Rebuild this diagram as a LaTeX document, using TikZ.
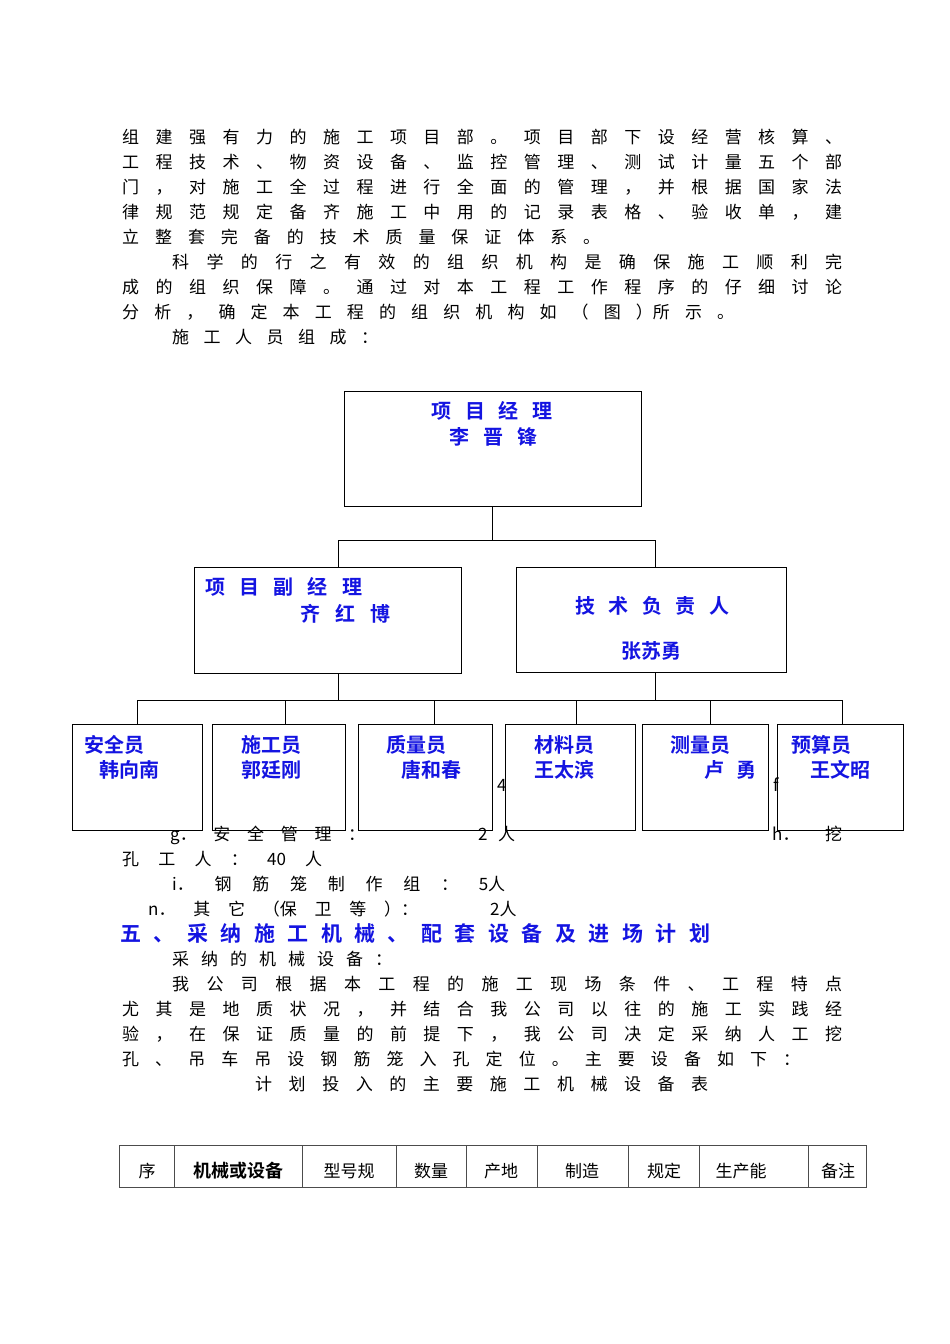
\documentclass[tikz,border=0pt]{standalone}
\usepackage{fontspec}
\setmainfont{Noto Sans CJK SC}
\newfontfamily\boldcjk{Noto Sans CJK SC Bold}
\definecolor{orgblue}{RGB}{20,20,225}
\newcommand\jl[4]{\node[anchor=base west,inner sep=0] (#1) at (#2) {\makebox[#3pt][s]{#4}};}
\begin{document}
\begin{tikzpicture}[x=1pt,y=-1pt,font=\fontsize{17}{20}\selectfont,
  box/.style={draw,line width=0.8pt,anchor=north west,inner sep=0},
  org/.style={text=orgblue,font=\fontsize{20}{24}\selectfont\boldcjk,inner sep=0,anchor=base},
  ln/.style={line width=0.8pt}]
\useasboundingbox (0,0) rectangle (950,1344);
\fill[white] (0,0) rectangle (950,1344);
% text block 1
\jl{t1}{122,143}{720}{组 建 强 有 力 的 施 工 项 目 部 。 项 目 部 下 设 经 营 核 算 、}
\jl{t2}{122,168}{720}{工 程 技 术 、 物 资 设 备 、 监 控 管 理 、 测 试 计 量 五 个 部}
\jl{t3}{122,193}{720}{门 ， 对 施 工 全 过 程 进 行 全 面 的 管 理 ， 并 根 据 国 家 法}
\jl{t4}{122,218}{720}{律 规 范 规 定 备 齐 施 工 中 用 的 记 录 表 格 、 验 收 单 ， 建}
\jl{t5}{122,243}{478}{立 整 套 完 备 的 技 术 质 量 保 证 体 系 。}
\jl{t6}{172,268}{670}{科 学 的 行 之 有 效 的 组 织 机 构 是 确 保 施 工 顺 利 完}
\jl{t7}{122,293}{720}{成 的 组 织 保 障 。 通 过 对 本 工 程 工 作 程 序 的 仔 细 讨 论}
\jl{t8}{122,318}{612}{分 析 ， 确 定 本 工 程 的 组 织 机 构 如 （ 图 ）所 示 。}
\jl{t9}{172,343}{206}{施 工 人 员 组 成 ：}
% partially hidden text
\node[anchor=base west,inner sep=0] (u1) at (497,791) {4};
\node[anchor=base west,inner sep=0] (u2) at (773,791) {f};
\jl{u3}{170,840}{195}{g． 安 全 管 理 ：}
\jl{u4}{478,840}{37}{2 人}
\jl{u5}{772,840}{70}{h． 挖}
\jl{u6}{122,865}{200}{孔 工 人 ： 40 人}
\jl{u7}{172,890}{333}{i． 钢 筋 笼 制 作 组 ： 5人}
\jl{u8}{148,915}{270}{n． 其 它 （保 卫 等 ）：}
\node[anchor=base west,inner sep=0] (u9) at (490,915) {2人};
\node[anchor=base west,inner sep=0,text=orgblue,font=\fontsize{21}{24}\selectfont\boldcjk] (h5) at (120,941) {\makebox[590pt][s]{五 、 采 纳 施 工 机 械 、 配 套 设 备 及 进 场 计 划}};
\jl{v1}{172,965}{220}{采 纳 的 机 械 设 备 ：}
\jl{v2}{172,990}{670}{我 公 司 根 据 本 工 程 的 施 工 现 场 条 件 、 工 程 特 点}
\jl{v3}{122,1015}{720}{尤 其 是 地 质 状 况 ， 并 结 合 我 公 司 以 往 的 施 工 实 践 经}
\jl{v4}{122,1040}{720}{验 ， 在 保 证 质 量 的 前 提 下 ， 我 公 司 决 定 采 纳 人 工 挖}
\jl{v5}{122,1065}{678}{孔 、 吊 车 吊 设 钢 筋 笼 入 孔 定 位 。 主 要 设 备 如 下 ：}
\jl{v6}{255,1090}{453}{计 划 投 入 的 主 要 施 工 机 械 设 备 表}
% org chart
\node[box,minimum width=297pt,minimum height=115pt] (pm) at (344,391) {};
\node[org] (pmt) at (492,418) {\makebox[121pt][s]{项 目 经 理}};
\node[org] (pmn) at (493,444) {\makebox[88pt][s]{李 晋 锋}};
\node[box,minimum width=267pt,minimum height=106pt] (dpm) at (194,567) {};
\node[org,anchor=base west] (dpmt) at (205,594) {\makebox[157pt][s]{项 目 副 经 理}};
\node[org,anchor=base west] (dpmn) at (300,621) {\makebox[90pt][s]{齐 红 博}};
\node[box,minimum width=270pt,minimum height=105pt] (tech) at (516,567) {};
\node[org] (techt) at (652,613) {\makebox[154pt][s]{技 术 负 责 人}};
\node[org] (techn) at (651,658) {张苏勇};
\coordinate (j1) at (492,540);
\draw[ln] (492,506) -- (j1);
\draw[ln] (338,540) -- (655,540);
\draw[ln] (338,540) -- (338,567);
\draw[ln] (655,540) -- (655,567);
\draw[ln] (338,673) -- (338,700);
\draw[ln] (655,672) -- (655,700);
\draw[ln] (137,700) -- (842,700);
\foreach \n/\xa/\xb/\xv/\la/\lb in {s1/72/202/137/{安全员}/{\hspace*{15pt}韩向南},
  s2/212/345/285/{\hspace*{17pt}施工员}/{\hspace*{17pt}郭廷刚},
  s3/358/492/434/{\hspace*{16pt}质量员}/{\hspace*{31pt}唐和春},
  s4/505/635/576/{\hspace*{17pt}材料员}/{\hspace*{17pt}王太滨},
  s5/642/768/710/{\hspace*{16pt}测量员}/{\hspace*{50pt}卢\hspace{12pt}勇},
  s6/777/903/842/{\hspace*{2pt}预算员}/{\hspace*{21pt}王文昭}}{
  \pgfmathsetmacro\w{\xb-\xa}
  \node[box,minimum width=\w pt,minimum height=106pt] (\n) at (\xa,724) {};
  \node[org,anchor=base west] (\n a) at (\xa+12,752) {\la};
  \node[org,anchor=base west] (\n b) at (\xa+12,777) {\lb};
  \draw[ln] (\xv,700) -- (\xv,724);
}
% table
\draw[line width=0.8pt,black!70] (119,1145) rectangle (866,1187);
\foreach \x in {174,302,396,466,537,628,699,808} \draw[line width=0.7pt,black!70] (\x,1145) -- (\x,1187);
\foreach \n/\x/\t in {c1/147/序,c3/349/型号规,c4/431/数量,c5/501/产地,c6/582/制造,c7/664/规定,c8/741/生产能,c9/838/备注}
  \node[anchor=base,inner sep=0] (\n) at (\x,1177) {\t};
\node[anchor=base,inner sep=0,font=\fontsize{18}{20}\selectfont\boldcjk] (c2) at (238,1177) {机械或设备};
\end{tikzpicture}
\end{document}
